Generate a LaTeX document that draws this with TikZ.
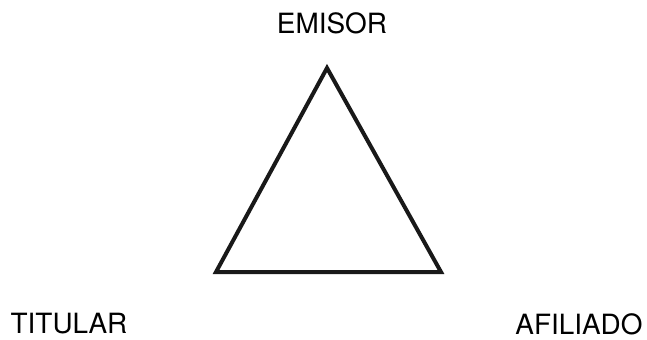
\documentclass[tikz,border=0pt]{standalone}
\usepackage{fontspec}
\setmainfont{TeX Gyre Heros}
\usepackage{tikz}
\usetikzlibrary{positioning}

\begin{document}
\begin{tikzpicture}[
		x=1bp, y=-1bp,
		party/.style={
			inner sep=0pt, anchor=center,
			font=\fontsize{28}{30}\selectfont
		},
		side/.style={line width=4bp, line join=miter, black!90}
		]
		\useasboundingbox (0,0) rectangle (647,339);
		
		%% triangle corners
		\coordinate (top) at (327,68);
		\coordinate (left) at (216,272);
		\coordinate (right) at (441,272);
		
		\draw[side] (top) -- (right) -- (left) -- cycle;
		
		%% the three parties
		\node[party] (emisor) at (332,23) {EMISOR};
		\node[party] (titular) at (69,324) {TITULAR};
		\node[party] (afiliado) at (579,324) {AFILIADO};
		
\end{tikzpicture}
\end{document}
